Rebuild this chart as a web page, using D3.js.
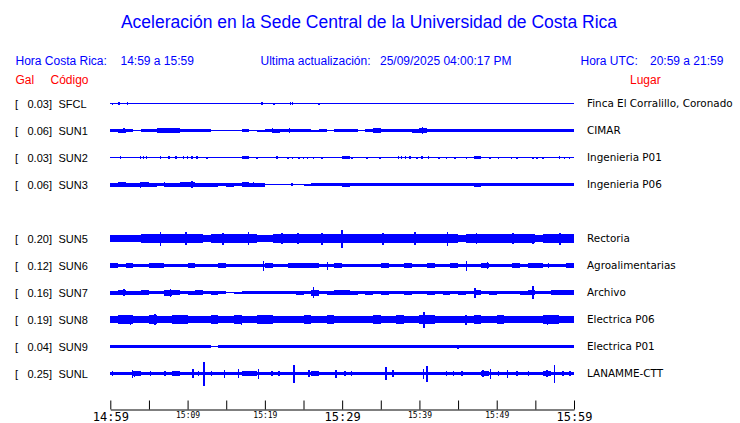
<!DOCTYPE html>
<html><head><meta charset="utf-8">
<script src="https://cdn.jsdelivr.net/npm/d3@7"></script>
<style>body{margin:0;background:#fff;overflow:hidden}</style>
</head><body><svg id="c" width="740" height="423"></svg>
<script>
// ---------- data ----------
const codes  = ["SFCL","SUN1","SUN2","SUN3","SUN4","SUN5","SUN6","SUN7","SUN8","SUN9","SUNL"];
const gals   = [0.03, 0.06, 0.03, 0.06, null, 0.20, 0.12, 0.16, 0.19, 0.04, 0.25];
const places = ["Finca El Corralillo, Coronado","CIMAR","Ingenieria P01","Ingenieria P06","",
                "Rectoria","Agroalimentarias","Archivo","Electrica P06","Electrica P01","LANAMME-CTT"];

// per-minute envelope (relative half amplitude)
const envSFCL = [0,0,0,0,0,0,0,0,0,0, 0,0,0,0,0,0,0,0,0,0, 0,0,0,0,0,0,0,0,0,0, 0,0,0,0,0,0,0,0,0,0, 0,0,0,0,0,0,0,0,0,0, 0,0,0,0,0,0,0,0,0,0];
const envSUN1 = [1.2,2.0,1.9,0.8,1.8,1.7,2.1,2.1,2.1,1.6, 1.8,1.6,1.2,0.8,0.8,0.8,0.6,1.7,0.8,1.0, 1.8,2.0,1.5,1.9,1.5,1.7,1.0,1.8,0.8,1.5, 1.7,1.8,0.8,1.7,2.1,1.6,1.9,1.9,1.9,2.0, 2.1,1.9,1.8,1.8,1.8,1.6,1.7,1.9,1.2,1.8, 1.8,1.2,1.7,1.2,1.6,1.7,1.6,1.9,1.9,1.6];
const envSUN2 = [0,0,0,0,0,0,0,0,0,0, 0,0,0,0,0,0,0,1.2,0,0, 0,0,0,0,0,0,0,0,0,0, 1.3,0,0,0,0,0,0,0,0,0, 0,0,0,0,0,0,0,1.2,0,0, 0,0,0,0,0,0,0,0,0,0];
const envSUN3 = [2.0,2.1,2.0,2.0,2.1,2.0,1.9,2.0,2.0,2.1, 2.1,2.0,2.0,2.0,1.9,2.0,1.9,2.1,2.0,2.0, 0.3,0,0,0,0,1.0,1.7,1.5,1.4,1.5, 2.0,1.5,1.4,1.4,1.4,1.4,1.4,1.4,1.4,1.4, 1.4,1.4,1.4,1.4,1.4,1.4,1.4,2.0,1.4,1.4, 1.4,1.4,1.9,1.4,1.7,1.4,1.4,1.4,1.8,1.4];
const envSUN5 = [3.7,3.7,3.5,3.7,4.1,4.5,4.5,4.3,4.1,4.5, 4.7,4.1,3.9,4.3,4.7,4.5,4.1,4.3,4.1,3.9, 3.9,4.1,4.1,4.3,4.5,4.1,4.1,4.3,4.1,4.1, 4.5,4.3,4.1,4.3,4.5,4.7,4.5,4.1,4.5,4.9, 4.5,4.3,4.1,4.5,4.1,3.9,4.1,4.5,4.7,4.5, 4.1,4.3,4.5,4.5,4.1,3.9,4.1,4.3,4.5,4.3];
const envSUN6 = [2.2,1.7,2.2,1.7,1.7,2.2,2.2,1.7,1.7,1.7, 2.2,1.7,1.7,1.7,2.2,1.7,1.7,1.7,1.7,1.7, 2.2,1.7,1.7,2.2,2.2,2.2,2.2,1.7,1.7,2.2, 1.7,1.7,1.7,1.7,1.7,2.2,1.7,1.7,2.2,1.7, 1.7,2.2,1.7,1.7,2.2,1.7,1.7,1.7,2.6,1.7, 1.7,1.7,2.2,1.7,2.2,2.2,1.7,1.7,1.7,2.2];
const envSUN7 = [2.0,2.3,2.0,2.0,2.3,1.7,1.7,3.0,2.6,1.7, 2.0,2.2,1.7,2.0,1.7,0.3,1.0,1.7,1.7,1.7, 1.7,1.7,1.7,1.7,2.0,1.7,3.0,1.7,2.0,2.2, 2.2,2.0,1.7,2.0,1.7,2.0,1.7,1.7,2.0,1.7, 1.7,2.0,1.7,2.0,1.7,2.0,1.7,2.2,1.7,2.0, 1.7,1.7,1.7,2.0,2.2,1.7,1.7,2.2,2.2,2.2];
const envSUN8 = [3.8,4.3,4.3,3.8,3.8,4.3,3.8,3.8,4.3,4.3, 3.8,3.8,3.8,4.3,3.8,3.8,4.3,3.8,3.8,4.3, 4.3,3.8,3.8,3.8,3.8,4.3,3.8,3.8,4.3,3.8, 3.8,3.8,3.8,3.8,4.3,3.8,3.8,4.3,3.8,3.8, 4.3,4.3,3.8,3.8,3.8,3.8,3.8,4.3,3.8,3.8, 4.3,3.8,3.8,3.8,3.8,3.8,4.3,4.3,3.8,3.8];
const envSUN9 = [1.2,1.2,1.2,1.2,1.2,1.2,1.2,1.2,1.2,1.2, 1.2,1.2,1.2,0.7,1.2,1.2,1.2,1.2,1.2,1.2, 1.2,1.2,1.2,1.2,1.2,1.2,1.2,1.2,1.2,1.2, 1.2,1.2,1.2,1.2,1.2,1.2,1.2,1.2,1.2,1.2, 1.2,1.2,1.2,1.2,1.2,1.2,1.2,1.2,1.2,1.2, 1.2,1.2,1.2,1.2,1.2,1.2,1.2,1.2,1.2,1.2];
const envSUNL = [1.6,1.6,1.6,2.2,1.6,1.6,1.6,1.6,2.2,1.6, 1.6,1.6,1.6,1.6,1.6,1.6,1.6,2.2,2.2,1.6, 1.6,1.6,1.6,1.6,1.6,1.6,2.2,1.6,1.6,1.6, 1.6,1.6,1.6,1.6,1.6,1.6,1.6,1.6,1.6,1.6, 1.6,1.6,1.6,1.6,1.6,1.6,1.6,1.6,2.2,1.6, 1.6,1.6,1.6,1.6,1.6,1.6,2.2,1.6,1.6,1.6];

// isolated peaks: [minute after 14:59, relative half amplitude]
const spikesSFCL = [[0.3,1.0],[1.1,1.2],[2.2,1.5],[19.6,1.2],[21.2,1.0],[23.3,1.2],[23.6,1.2],[27.0,1.0]];
const spikesSUN1 = [[1.8,2.9],[6.7,2.9],[8.6,2.7],[21.0,2.9],[23.2,2.7],[34.6,2.9],[40.4,3.5]];
const spikesSUN2 = [[1.3,1.3],[3.9,1.3],[4.3,1.3],[4.7,1.3],[6.5,1.3],[7.6,1.3],[8.5,1.3],[9.5,1.3],[10.0,1.3],[10.6,1.3],[11.2,1.3],[12.5,1.0],[19.0,1.0],[21.6,1.3],[23.0,1.0],[23.6,1.0],[24.4,1.0],[25.0,1.0],[25.5,1.0],[26.3,1.0],[27.4,1.0],[31.3,1.0],[33.2,1.0],[34.9,1.0],[37.3,1.3],[37.7,1.3],[38.2,1.3],[38.8,1.3],[39.7,1.0],[40.3,1.3],[41.2,1.3],[42.5,1.0],[43.5,1.0],[44.6,1.0],[46.1,1.0],[49.1,1.0],[50.2,1.0],[51.9,1.0],[52.6,1.0],[54.7,1.0],[55.2,1.0],[56.0,1.0],[58.1,1.3],[58.8,1.0],[59.4,1.0]];
const spikesSUN3 = [[1.3,2.7],[1.9,2.3],[3.9,3.0],[7.0,2.3],[10.6,3.3],[13.1,2.0],[17.2,2.7],[18.5,2.3],[23.5,1.5]];
const spikesSUN5 = [[6.5,7],[9.8,6.5],[14.6,6],[17.9,6.5],[22.2,5.5],[24.3,5.5],[27.4,6],[30.0,9],[35.3,6],[39.4,6.5],[43.6,7],[47.4,5.5],[52.1,5.5],[54.7,5],[58.2,6]];
const spikesSUN6 = [[6.7,2.5],[10.6,2.5],[19.8,5],[28.1,4],[46.1,5],[48.8,3.5],[56.7,2.8]];
const spikesSUN7 = [[1.8,3.3],[4.2,2.8],[7.8,4],[11.2,2.8],[26.3,5.5],[47.2,5],[54.7,6.5]];
const spikesSUN8 = [[2.6,5],[5.8,5.5],[17.0,5],[40.6,8],[46.0,5],[56.6,5]];
const spikesSUN9 = [[14.5,1.8],[45.0,2.0]];
const spikesSUNL = [[0.3,2.3],[2.9,4],[3.1,3],[5.2,2.3],[7.1,2.3],[8.3,2.7],[10.7,4.3],[11.4,2.5],[12.1,12],[13.1,2.5],[14.8,4],[16.6,4.3],[17.4,2.7],[18.7,2.3],[19.2,5],[20.9,2.3],[21.8,2.3],[23.8,9],[25.7,3.3],[29.2,4],[30.4,2.3],[31.2,2.3],[35.7,6.5],[36.6,3.3],[40.5,5],[41.0,8],[43.5,2.7],[44.4,2.3],[45.5,2.3],[48.2,3.3],[49.2,5],[50.2,2.3],[51.4,4],[52.6,2.3],[54.1,2.3],[56.5,3.3],[57.5,9],[58.6,2.7],[59.5,2.7]];

const tickMinutes  = [0,5,10,15,20,25,30,35,40,45,50,55,60];
const bigLabels    = {0:"14:59", 30:"15:29", 60:"15:59"};
const smallLabels  = {10:"15:09", 20:"15:19", 40:"15:39", 50:"15:49"};

const title      = "Aceleración en la Sede Central de la Universidad de Costa Rica";
const horaCR     = ["Hora Costa Rica:", "14:59 a 15:59"];
const ultima     = ["Ultima actualización:", "25/09/2025 04:00:17 PM"];
const horaUTC    = ["Hora UTC:", "20:59 a 21:59"];

// table built from the arrays
const envs   = {SFCL:envSFCL,SUN1:envSUN1,SUN2:envSUN2,SUN3:envSUN3,SUN5:envSUN5,SUN6:envSUN6,SUN7:envSUN7,SUN8:envSUN8,SUN9:envSUN9,SUNL:envSUNL};
const spikes = {SFCL:spikesSFCL,SUN1:spikesSUN1,SUN2:spikesSUN2,SUN3:spikesSUN3,SUN5:spikesSUN5,SUN6:spikesSUN6,SUN7:spikesSUN7,SUN8:spikesSUN8,SUN9:spikesSUN9,SUNL:spikesSUNL};

// ---------- drawing ----------
const BLUE = "#0000ff", RED = "#ff0000";
const svg = d3.select("#c");
const t0 = new Date(2025, 8, 25, 14, 59);
const at = m => new Date(t0.getTime() + m * 60000);
const x = d3.scaleTime().domain([at(0), at(60)]).range([110.3, 574]);
const y = d3.scalePoint().domain(codes).range([103.5, 373.5]);
const a = d3.scaleLinear().domain([0, 12]).range([0, 12]);

svg.append("text").attr("x", 369).attr("y", 28).attr("text-anchor", "middle")
  .attr("font-family", "Liberation Sans, Arial, sans-serif").attr("font-size", 17.5)
  .attr("fill", BLUE).text(title);

const hdr = svg.append("g").attr("font-family", "Liberation Sans, Arial, sans-serif")
  .attr("font-size", 12).attr("fill", BLUE);
hdr.append("text").attr("x", 15.5).attr("y", 65).text(horaCR[0]);
hdr.append("text").attr("x", 120.5).attr("y", 65).text(horaCR[1]);
hdr.append("text").attr("x", 260.5).attr("y", 65).text(ultima[0]);
hdr.append("text").attr("x", 380).attr("y", 65).text(ultima[1]);
hdr.append("text").attr("x", 580.5).attr("y", 65).text(horaUTC[0]);
hdr.append("text").attr("x", 650).attr("y", 65).text(horaUTC[1]);

const hdr2 = svg.append("g").attr("font-family", "Liberation Sans, Arial, sans-serif")
  .attr("font-size", 12).attr("fill", RED);
hdr2.append("text").attr("x", 15.5).attr("y", 84).text("Gal");
hdr2.append("text").attr("x", 50.5).attr("y", 84).text("Código");
hdr2.append("text").attr("x", 630).attr("y", 84).text("Lugar");

codes.forEach((c, i) => {
  if (gals[i] == null) return;
  const yc = y(c);
  const g = svg.append("g");
  const lf = "Liberation Sans, Arial, sans-serif";
  g.append("text").attr("x", 15).attr("y", yc + 4).attr("font-family", lf).attr("font-size", 11).text("[");
  g.append("text").attr("x", 27.5).attr("y", yc + 4).attr("font-family", lf).attr("font-size", 11).text(gals[i].toFixed(2) + "]");
  g.append("text").attr("x", 58.5).attr("y", yc + 4).attr("font-family", lf).attr("font-size", 11).text(c);
  g.append("text").attr("x", 587).attr("y", yc + 3.5).attr("font-family", "DejaVu Sans, sans-serif").attr("font-size", 10.4).text(places[i]);

  const tr = svg.append("g").attr("fill", BLUE).attr("shape-rendering", "crispEdges");
  tr.append("line").attr("x1", x(at(0))).attr("x2", x(at(60))).attr("y1", yc).attr("y2", yc)
    .attr("stroke", BLUE).attr("stroke-width", 1);
  tr.selectAll("rect.env").data(envs[c].map((v, m) => ({m, v})).filter(d => d.v > 0.5))
    .join("rect").attr("class", "env")
    .attr("x", d => x(at(d.m))).attr("width", d => x(at(d.m + 1)) - x(at(d.m)))
    .attr("y", d => yc - a(d.v)).attr("height", d => 2 * a(d.v));
  tr.selectAll("rect.sp").data(spikes[c]).join("rect").attr("class", "sp")
    .attr("x", d => x(at(d[0])) - 0.75).attr("width", 1.5)
    .attr("y", d => yc - a(d[1])).attr("height", d => 2 * a(d[1]));
});

const axis = d3.axisBottom(x).tickValues(tickMinutes.map(at))
  .tickSizeInner(-9).tickSizeOuter(0).tickPadding(2.5)
  .tickFormat(d => { const m = Math.round((d - t0) / 60000); return bigLabels[m] || smallLabels[m] || ""; });
const ax = svg.append("g").attr("transform", "translate(0,409.5)").call(axis);
ax.select(".domain").attr("stroke", "#000");
ax.selectAll(".tick line").attr("stroke", "#000");
ax.selectAll(".tick text").attr("fill", "#000").attr("font-family", "DejaVu Sans Mono, monospace")
  .attr("font-size", d => bigLabels[Math.round((d - t0) / 60000)] ? 12 : 8);
</script></body></html>
